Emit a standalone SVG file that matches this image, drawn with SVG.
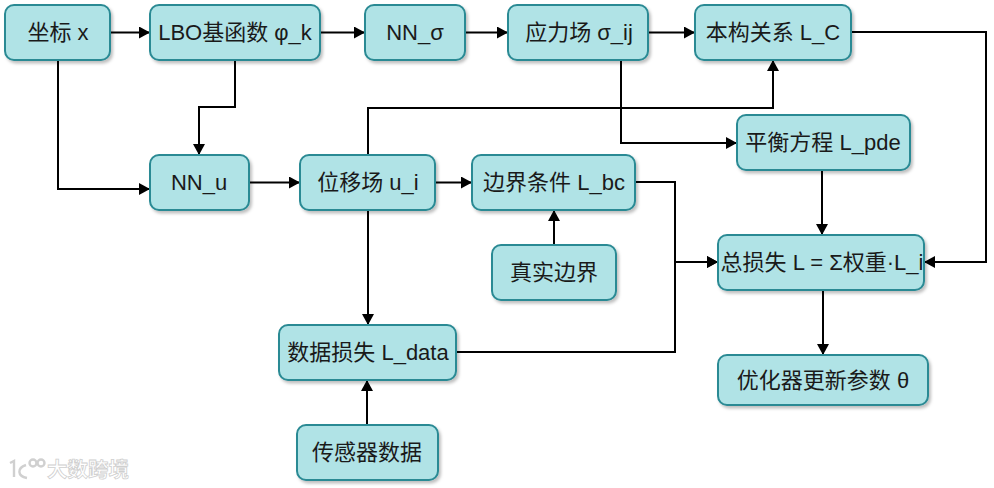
<svg xmlns="http://www.w3.org/2000/svg" width="994" height="488" viewBox="0 0 994 488">
<style>
.n rect{fill:#b0e3e6;stroke:#2b8a94;stroke-width:2;filter:url(#s)}
.n text{font-family:"Liberation Sans","Noto Sans CJK SC",sans-serif;font-size:22px;fill:#1a1a1a;text-anchor:middle}
.c path{fill:none;stroke:#000;stroke-width:2;marker-end:url(#a)}
.w{font-family:"Noto Sans CJK SC",sans-serif;font-size:20.500px;font-weight:700;fill:#fff;stroke:#cfcfcf;stroke-width:.8}
.l{fill:none;stroke:#d0d0d0;stroke-width:2.400}
</style>
<defs>
<marker id="a" markerUnits="userSpaceOnUse" markerWidth="12" markerHeight="12" refX="11" refY="6" orient="auto"><path d="M0 0L11 6L0 12Z" fill="#000"/></marker>
<filter id="s" x="-10%" y="-10%" width="125%" height="130%"><feDropShadow dx="2" dy="2.500" stdDeviation="1.500" flood-color="#000" flood-opacity=".25"/></filter>
</defs>
<rect width="994" height="488" fill="#fff"/>
<g class="c">
<path d="M110 32.500H150"/>
<path d="M320 32.500H365"/>
<path d="M465 32.500H508"/>
<path d="M648 32.500H695"/>
<path d="M235 60V107H199V155"/>
<path d="M58 60V189H150"/>
<path d="M249 182.500H300"/>
<path d="M435 182.500H472"/>
<path d="M368 155V108H773V60"/>
<path d="M621 60V143H737"/>
<path d="M851 32H986V262H924"/>
<path d="M822 170V235"/>
<path d="M635 182H675V262H718"/>
<path d="M456 352H675V262H718"/>
<path d="M554 245V210"/>
<path d="M368 210V325"/>
<path d="M367 425V380"/>
<path d="M823 290V355"/>
</g>
<g id="n1" class="n"><rect x="5" y="5" width="105" height="55" rx="9"/><text x="58" y="40">坐标 x</text></g>
<g id="n2" class="n"><rect x="150" y="5" width="170" height="55" rx="9"/><text x="235" y="40">LBO基函数 φ_k</text></g>
<g id="n3" class="n"><rect x="365" y="5" width="100" height="55" rx="9"/><text x="415" y="40">NN_σ</text></g>
<g id="n4" class="n"><rect x="508" y="5" width="140" height="55" rx="9"/><text x="579" y="40">应力场 σ_ij</text></g>
<g id="n5" class="n"><rect x="695" y="5" width="156" height="55" rx="9"/><text x="773" y="40">本构关系 L_C</text></g>
<g id="n6" class="n"><rect x="737" y="115" width="173" height="55" rx="9"/><text x="823" y="150">平衡方程 L_pde</text></g>
<g id="n7" class="n"><rect x="150" y="155" width="99" height="55" rx="9"/><text x="199" y="190">NN_u</text></g>
<g id="n8" class="n"><rect x="300" y="155" width="135" height="55" rx="9"/><text x="368" y="190">位移场 u_i</text></g>
<g id="n9" class="n"><rect x="472" y="155" width="163" height="55" rx="9"/><text x="554" y="190">边界条件 L_bc</text></g>
<g id="n10" class="n"><rect x="492" y="245" width="124" height="55" rx="9"/><text x="554" y="280">真实边界</text></g>
<g id="n11" class="n"><rect x="718" y="235" width="206" height="55" rx="9"/><text x="822" y="270">总损失 L = Σ权重·L_i</text></g>
<g id="n12" class="n"><rect x="279" y="325" width="177" height="55" rx="9"/><text x="368" y="360">数据损失 L_data</text></g>
<g id="n13" class="n"><rect x="718" y="355" width="210" height="50" rx="9"/><text x="823" y="388">优化器更新参数 θ</text></g>
<g id="n14" class="n"><rect x="297" y="425" width="141" height="55" rx="9"/><text x="367" y="460">传感器数据</text></g>
<path class="l" d="M10 463L14 461V477M26 465C17 468 17 476 27 478"/>
<circle class="l" cx="33" cy="463" r="3.500"/>
<circle class="l" cx="41" cy="463" r="3.500"/>
<text class="w" x="47" y="477">大数跨境</text>
</svg>
